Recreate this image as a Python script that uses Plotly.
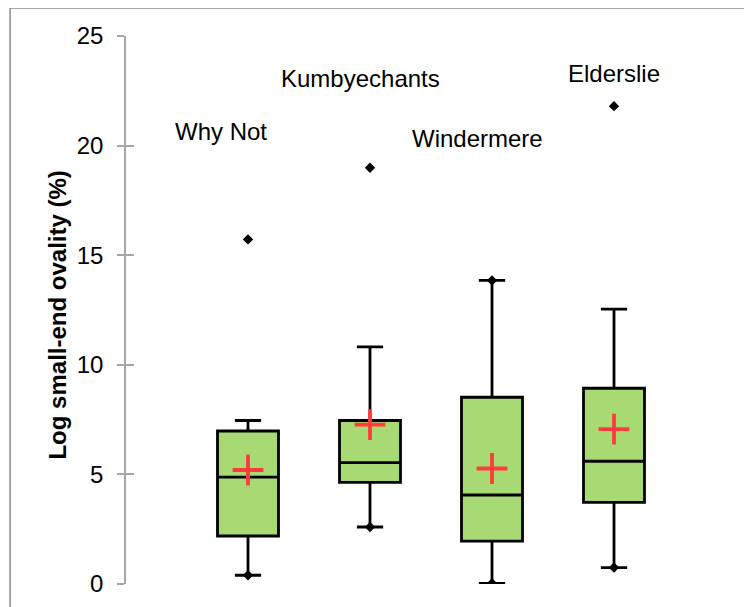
import plotly.graph_objects as go

# ---- data ----
sites = ["Why Not", "Kumbyechants", "Windermere", "Elderslie"]
q1 = [2.19, 4.64, 1.96, 3.72]
median = [4.88, 5.54, 4.06, 5.60]
q3 = [6.98, 7.46, 8.52, 8.93]
lower_whisker = [0.40, 2.60, 0.03, 0.75]
upper_whisker = [7.46, 10.82, 13.85, 12.54]
mean = [5.20, 7.27, 5.27, 7.07]
minimum = [0.40, 2.60, 0.03, 0.75]
maximum = [15.72, 18.99, 13.85, 21.80]
y_ticks = [0, 5, 10, 15, 20, 25]

# label placement (data coords)
label_x = [0.775, 1.926, 2.885, 4.0]
label_y = [20.66, 23.04, 20.34, 23.31]

xpos = list(range(1, len(sites) + 1))
FONT = "Arial, Liberation Sans, sans-serif"

fig = go.Figure()
fig.add_trace(go.Box(
    x=xpos, q1=q1, median=median, q3=q3,
    lowerfence=lower_whisker, upperfence=upper_whisker,
    width=0.5, whiskerwidth=0.43,
    fillcolor="#A8DA74", line=dict(color="black", width=2.8),
    showlegend=False, hoverinfo="skip",
))
# min / max diamonds
fig.add_trace(go.Scatter(
    x=xpos + xpos, y=minimum + maximum, mode="markers",
    marker=dict(symbol="diamond", size=8, color="black"),
    showlegend=False, hoverinfo="skip",
))
# means
fig.add_trace(go.Scatter(
    x=xpos, y=mean, mode="markers",
    marker=dict(symbol="cross-thin", size=22, line=dict(color="#FF3B3B", width=3.8)),
    showlegend=False, hoverinfo="skip",
))

for name, lx, ly in zip(sites, label_x, label_y):
    fig.add_annotation(x=lx, y=ly, text=name, showarrow=False,
                       font=dict(family=FONT, size=24, color="black"),
                       xanchor="center", yanchor="middle")

fig.add_annotation(xref="paper", yref="paper", x=-0.113, y=0.49,
                   text="<b>Log small-end ovality (%)</b>", textangle=-90,
                   showarrow=False, font=dict(family=FONT, size=24, color="black"),
                   xanchor="center", yanchor="middle")

# outer border (left and top)
fig.add_shape(type="line", xref="paper", yref="paper", x0=-0.19, x1=-0.19, y0=-0.1, y1=1.051,
              line=dict(color="#8C8C8C", width=1.5))
fig.add_shape(type="line", xref="paper", yref="paper", x0=-0.19, x1=1.1, y0=1.051, y1=1.051,
              line=dict(color="#8C8C8C", width=1.5))

fig.update_layout(
    width=752, height=607,
    margin=dict(l=118, r=24, t=28, b=31.3),
    paper_bgcolor="white", plot_bgcolor="white",
    font=dict(family=FONT, size=24, color="black"),
    xaxis=dict(range=[0, 5], showline=False, showgrid=False, zeroline=False,
               showticklabels=False, ticks=""),
    yaxis=dict(range=[0, 25], tickvals=y_ticks, showline=True, linecolor="#A6A6A6",
               linewidth=1.5, ticks="outside", ticklen=7, tickcolor="#A6A6A6",
               tickwidth=1.5, showgrid=False, zeroline=False, ticklabelstandoff=9,
               tickfont=dict(family=FONT, size=24, color="black")),
    yaxis2=dict(range=[0, 25], tickvals=y_ticks, overlaying="y", side="left",
                showline=False, ticks="inside", ticklen=8, tickcolor="#A6A6A6",
                tickwidth=1.5, showticklabels=False, showgrid=False, zeroline=False),
)
# dummy trace to activate yaxis2
fig.add_trace(go.Scatter(x=[None], y=[None], yaxis="y2", showlegend=False, hoverinfo="skip"))

fig.write_html("out.html")
